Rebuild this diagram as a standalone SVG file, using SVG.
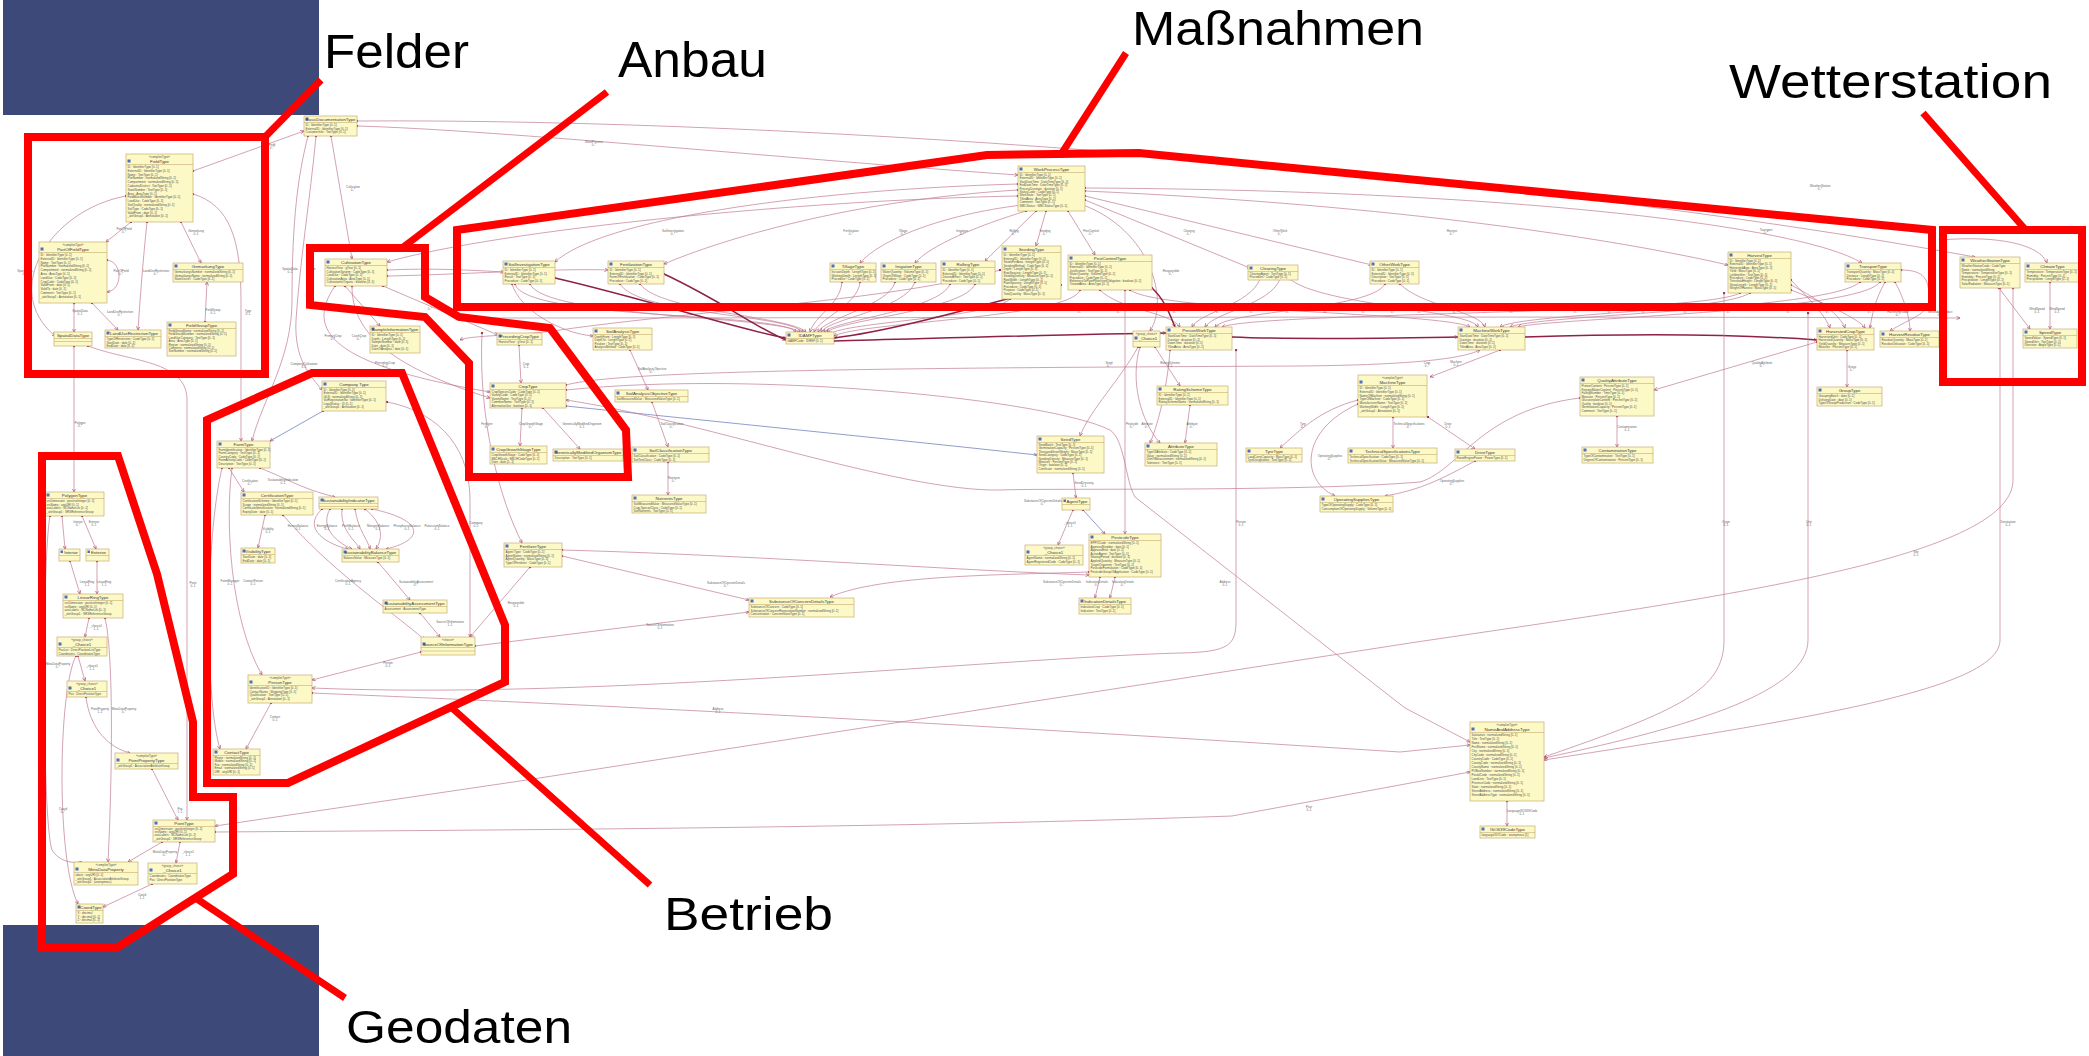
<svg xmlns="http://www.w3.org/2000/svg" width="2089" height="1056" viewBox="0 0 2089 1056">
<style>
.b{fill:#fdf9c6;stroke:#c6ab74;stroke-width:0.7}
.dv{stroke:#c6ab74;stroke-width:0.6}
.ic{fill:#4f6fbf}
.t{font-family:"Liberation Sans",Arial,sans-serif;font-size:4.4px;fill:#3a3a3a;text-anchor:middle}
.s{font-family:"Liberation Sans",Arial,sans-serif;font-size:3px;fill:#555;text-anchor:middle}
.a{font-family:"Liberation Sans",Arial,sans-serif;font-size:3px;fill:#505050}
.l{font-family:"Liberation Sans",Arial,sans-serif;font-size:3px;fill:#666;text-anchor:middle}
.c{fill:none;stroke:#c07a94;stroke-width:0.7}
.k{fill:none;stroke:#8e2244;stroke-width:1.5}
.bl{fill:none;stroke:#6272b8;stroke-width:0.7}
.red{fill:none;stroke:#ff0000;stroke-width:8;stroke-linejoin:miter}
.redl{stroke:#ff0000;stroke-width:7}
.big{font-family:"Liberation Sans",Arial,sans-serif;fill:#000}
.blue{fill:#3d4a79}
</style>
<defs>
<marker id="dm" viewBox="0 0 6 6" refX="3" refY="3" markerWidth="3" markerHeight="3" markerUnits="userSpaceOnUse" orient="auto"><path d="M0,3 L3,0 L6,3 L3,6 Z" fill="#9a1f45"/></marker>
<marker id="ah" viewBox="0 0 6 6" refX="6" refY="3" markerWidth="3.5" markerHeight="3.5" markerUnits="userSpaceOnUse" orient="auto"><path d="M0,0 L6,3 L0,6" fill="none" stroke="#9a3356" stroke-width="1"/></marker>
</defs>
<rect width="2089" height="1056" fill="#ffffff"/>

<!-- connectors -->
<g id="connectors" marker-start="url(#dm)" marker-end="url(#ah)">
<path class="c" d="M193,171 L304,131"/>
<path class="c" d="M131,222 L106,242"/>
<path class="c" d="M181,222 L201,263"/>
<path class="c" d="M147,222 C143,260 140,300 138,330"/>
<path class="c" d="M107,260 C123,262 123,290 107,292"/>
<path class="c" d="M126,196 C50,210 0,290 55,336"/>
<path class="c" d="M74,303 L74,332"/>
<path class="c" d="M92,303 L118,330"/>
<path class="c" d="M205,322 L207,282"/>
<path class="c" d="M193,194 C230,205 241,240 241,300 L241,441"/>
<path class="c" d="M74,346 L74,492"/>
<path class="c" d="M88,346 C130,362 187,360 187,400 L187,820"/>
<path class="c" d="M308,136 C298,175 292,220 292,300 C292,360 262,400 252,441"/>
<path class="c" d="M316,136 C310,200 300,260 296,320 C294,360 310,375 322,390"/>
<path class="c" d="M331,136 L352,259"/>
<path class="c" d="M357,126 C500,130 800,160 1018,175"/>
<path class="c" d="M357,121 C800,118 1500,170 1975,257"/>
<path class="c" d="M387,270 C430,268 470,270 504,272"/>
<path class="c" d="M387,276 C450,275 560,268 608,270"/>
<path class="c" d="M383,286 L498,335"/>
<path class="c" d="M345,286 L380,326"/>
<path class="c" d="M335,286 C305,330 330,365 490,392"/>
<path class="c" d="M352,286 C352,330 385,365 490,398"/>
<path class="c" d="M519,345 L521,383"/>
<path class="c" d="M522,408 L520,446"/>
<path class="c" d="M543,408 L580,449"/>
<path class="c" d="M482,333 C478,420 500,500 522,543"/>
<path class="c" d="M512,284 C520,310 560,333 593,336"/>
<path class="c" d="M630,350 L648,390"/>
<path class="c" d="M652,402 L668,447"/>
<path class="c" d="M668,462 L668,495"/>
<path class="c" d="M530,567 L470,637"/>
<path class="c" d="M475,646 L749,612"/>
<path class="c" d="M562,556 L749,600"/>
<path class="c" d="M387,402 C430,410 470,440 470,500 L470,637"/>
<path class="bl" d="M566,406 C700,420 900,440 1037,455"/>
<path class="bl" d="M323,411 L270,441"/>
<path class="bl" d="M1083,510 L1105,534"/>
<path class="c" d="M562,550 C750,555 950,570 1089,575"/>
<path class="c" d="M1089,572 C1000,575 880,575 830,597"/>
<path class="c" d="M566,390 C760,370 1050,400 1110,430 C1125,440 1125,480 1135,497 L1405,708 L1470,742"/>
<path class="c" d="M566,385 C620,370 900,368 1300,366 C1400,365 1460,360 1480,350"/>
<path class="c" d="M1580,398 C1480,410 1460,470 1420,482 C1300,492 1050,488 1000,490 C900,492 700,420 566,400"/>
<path class="c" d="M222,468 C205,540 205,700 220,749"/>
<path class="c" d="M232,468 C225,520 230,620 262,675"/>
<path class="c" d="M229,468 L244,492"/>
<path class="c" d="M260,468 C290,480 300,488 335,497"/>
<path class="c" d="M265,515 L258,548"/>
<path class="c" d="M283,515 C330,570 390,610 425,640"/>
<path class="c" d="M322,509 C300,530 330,545 348,549"/>
<path class="c" d="M330,509 C318,530 342,545 352,549"/>
<path class="c" d="M342,509 C340,530 355,540 360,549"/>
<path class="c" d="M355,509 C358,530 368,540 370,549"/>
<path class="c" d="M365,509 C385,525 382,540 376,549"/>
<path class="c" d="M372,509 C425,520 425,540 386,549"/>
<path class="c" d="M378,562 L410,600"/>
<path class="c" d="M420,613 L440,637"/>
<path class="c" d="M421,652 L312,680"/>
<path class="c" d="M271,703 L246,749"/>
<path class="c" d="M1236,350 L1236,620 C1236,645 1230,652 1180,653 C1000,658 600,700 312,688"/>
<path class="c" d="M312,693 C600,705 900,720 1400,752 L1470,745"/>
<path class="c" d="M62,516 L65,549"/>
<path class="c" d="M82,516 L96,549"/>
<path class="c" d="M70,561 L80,594"/>
<path class="c" d="M97,561 L97,594"/>
<path class="c" d="M89,618 L85,637"/>
<path class="c" d="M78,656 L85,681"/>
<path class="c" d="M86,697 C90,730 110,748 130,753"/>
<path class="c" d="M105,618 C113,650 113,760 108,862"/>
<path class="c" d="M50,516 C42,560 42,820 52,850 C58,860 70,864 82,862"/>
<path class="c" d="M76,656 C58,690 56,860 78,904"/>
<path class="c" d="M152,769 L178,820"/>
<path class="c" d="M162,842 L128,862"/>
<path class="c" d="M180,842 L176,863"/>
<path class="c" d="M152,884 L103,907"/>
<path class="c" d="M2013,288 L2013,480 C2013,560 1700,600 1410,643 L520,781 L215,826"/>
<path class="c" d="M215,832 C500,830 900,828 1232,816 L1470,772"/>
<path class="c" d="M1018,184 C800,190 600,220 555,262"/>
<path class="c" d="M1018,190 C850,200 720,240 664,264"/>
<path class="c" d="M1018,196 C800,200 500,230 387,262"/>
<path class="c" d="M1022,205 C940,215 880,240 860,263"/>
<path class="c" d="M1026,211 C980,225 930,245 915,263"/>
<path class="c" d="M1036,211 L985,261"/>
<path class="c" d="M1046,211 L1036,246"/>
<path class="c" d="M1068,211 L1095,255"/>
<path class="c" d="M1085,200 L1250,268"/>
<path class="c" d="M1085,196 L1372,265"/>
<path class="c" d="M1085,191 C1400,205 1620,240 1728,265"/>
<path class="c" d="M1085,188 C1500,190 1800,225 1862,263"/>
<path class="c" d="M1083,205 C1150,230 1170,300 1150,331"/>
<path class="c" d="M460,318 C900,318 1500,316 1960,318"/>
<path class="c" d="M515,284 C525,320 780,312 796,332"/>
<path class="c" d="M530,284 C545,318 780,316 800,332"/>
<path class="c" d="M620,284 C640,315 785,314 803,332"/>
<path class="c" d="M640,284 C660,312 790,316 806,332"/>
<path class="c" d="M842,282 C840,305 815,315 810,332"/>
<path class="c" d="M860,282 C858,305 820,318 814,332"/>
<path class="c" d="M895,282 C890,305 825,318 818,332"/>
<path class="c" d="M915,282 C905,310 830,318 821,332"/>
<path class="c" d="M950,284 C940,310 835,320 824,332"/>
<path class="c" d="M975,284 C965,310 840,320 827,332"/>
<path class="c" d="M1010,299 C990,318 845,322 830,334"/>
<path class="c" d="M1080,290 C1070,318 860,322 834,336"/>
<path class="c" d="M1100,290 C1120,310 1170,312 1180,327"/>
<path class="c" d="M1260,279 C1250,305 1200,312 1192,327"/>
<path class="c" d="M1280,279 C1270,305 1215,312 1205,327"/>
<path class="c" d="M1385,284 C1370,310 1230,310 1215,327"/>
<path class="c" d="M1740,293 C1700,315 1260,312 1222,327"/>
<path class="c" d="M1290,279 C1320,305 1470,310 1478,327"/>
<path class="c" d="M1400,284 C1420,305 1480,312 1485,327"/>
<path class="c" d="M1750,293 C1720,312 1520,314 1500,327"/>
<path class="c" d="M1860,282 C1830,310 1540,314 1510,327"/>
<path class="c" d="M1880,282 C1860,312 1550,318 1518,327"/>
<path class="c" d="M1130,290 C1160,312 1440,312 1470,327"/>
<path class="c" d="M1000,270 C900,300 700,310 560,330 C520,336 470,335 460,340"/>
<path class="k" d="M555,278 C650,300 740,330 786,338"/>
<path class="k" d="M664,274 C720,300 760,330 786,340"/>
<path class="k" d="M1061,285 C1000,300 900,330 834,338"/>
<path class="k" d="M834,341 C950,338 1080,334 1166,333"/>
<path class="k" d="M1232,337 C1300,340 1400,338 1458,337"/>
<path class="k" d="M1525,337 C1650,333 1750,335 1817,340"/>
<path class="k" d="M1152,288 C1165,300 1170,315 1175,327"/>
<path class="c" d="M1500,350 L1430,377"/>
<path class="c" d="M1358,400 C1320,410 1300,430 1280,448"/>
<path class="c" d="M1393,417 L1393,448"/>
<path class="c" d="M1428,417 L1475,449"/>
<path class="c" d="M1358,404 C1300,430 1300,480 1335,496"/>
<path class="c" d="M1475,461 C1440,480 1420,490 1385,496"/>
<path class="c" d="M1190,405 L1185,443"/>
<path class="c" d="M1140,347 C1130,380 1140,420 1160,443"/>
<path class="c" d="M1155,347 L1180,386"/>
<path class="c" d="M1138,347 C1120,380 1090,410 1080,436"/>
<path class="c" d="M1073,473 L1076,498"/>
<path class="c" d="M1073,510 L1058,545"/>
<path class="c" d="M1125,290 L1125,534"/>
<path class="c" d="M1115,577 L1110,598"/>
<path class="c" d="M1100,577 L1095,598"/>
<path class="c" d="M1170,350 C1168,380 1160,420 1150,443"/>
<path class="c" d="M1791,280 C1810,300 1825,315 1830,328"/>
<path class="c" d="M1791,285 C1820,300 1840,315 1845,328"/>
<path class="c" d="M1791,290 C1830,305 1860,320 1865,328"/>
<path class="c" d="M1885,282 C1875,300 1872,315 1870,328"/>
<path class="c" d="M1895,282 C1905,300 1910,320 1910,331"/>
<path class="c" d="M1901,270 C1925,270 1929,280 1929,298 C1929,315 1910,318 1890,331"/>
<path class="c" d="M1847,350 L1847,387"/>
<path class="c" d="M1817,342 L1654,390"/>
<path class="c" d="M1617,416 L1617,447"/>
<path class="c" d="M1724,293 L1724,640 C1724,690 1680,710 1544,757"/>
<path class="c" d="M1808,313 L1808,640 C1808,690 1700,725 1544,758"/>
<path class="c" d="M2000,288 L2000,640 C2000,690 1800,720 1544,760"/>
<path class="c" d="M1999,288 L2030,329"/>
<path class="c" d="M2050,282 L2050,329"/>
<path class="c" d="M1940,240 C2000,235 2040,245 2047,263"/>
<path class="c" d="M1507,801 L1507,826"/>
</g>

<!-- connector labels -->
<g id="connector-labels">
<text class="l" x="272" y="146">Field<tspan x="272" dy="3.4">0..*</tspan></text>
<text class="l" x="124" y="230">PartOfField<tspan x="124" dy="3.4">0..*</tspan></text>
<text class="l" x="196" y="232">Gemarkung<tspan x="196" dy="3.4">0..1</tspan></text>
<text class="l" x="156" y="272">LandUseRestriction<tspan x="156" dy="3.4">0..*</tspan></text>
<text class="l" x="121" y="272">PartOfField<tspan x="121" dy="3.4">0..*</tspan></text>
<text class="l" x="25" y="272">SpatialData<tspan x="25" dy="3.4">0..1</tspan></text>
<text class="l" x="80" y="312">SpatialData<tspan x="80" dy="3.4">0..1</tspan></text>
<text class="l" x="120" y="313">LandUseRestriction<tspan x="120" dy="3.4">0..*</tspan></text>
<text class="l" x="213" y="311">FieldGroup<tspan x="213" dy="3.4">0..1</tspan></text>
<text class="l" x="248" y="312">Type<tspan x="248" dy="3.4">0..1</tspan></text>
<text class="l" x="290" y="270">SpatialData<tspan x="290" dy="3.4">0..1</tspan></text>
<text class="l" x="312" y="270">Farm<tspan x="312" dy="3.4">0..*</tspan></text>
<text class="l" x="80" y="424">Polygon<tspan x="80" dy="3.4">0..*</tspan></text>
<text class="l" x="193" y="584">Point<tspan x="193" dy="3.4">0..1</tspan></text>
<text class="l" x="353" y="188">Cultivation<tspan x="353" dy="3.4">0..*</tspan></text>
<text class="l" x="594" y="143">WorkProcess<tspan x="594" dy="3.4">0..*</tspan></text>
<text class="l" x="1820" y="187">WeatherStation<tspan x="1820" dy="3.4">0..*</tspan></text>
<text class="l" x="372" y="311">SampleInformation<tspan x="372" dy="3.4">0..*</tspan></text>
<text class="l" x="333" y="337">PrimaryCrop<tspan x="333" dy="3.4">0..*</tspan></text>
<text class="l" x="359" y="337">CatchCrop<tspan x="359" dy="3.4">0..*</tspan></text>
<text class="l" x="304" y="365">CompanyCultivation<tspan x="304" dy="3.4">0..1</tspan></text>
<text class="l" x="385" y="364">PrecedingCrop<tspan x="385" dy="3.4">0..1</tspan></text>
<text class="l" x="526" y="365">Crop<tspan x="526" dy="3.4">0..1</tspan></text>
<text class="l" x="531" y="425">CropGrowthStage<tspan x="531" dy="3.4">0..*</tspan></text>
<text class="l" x="582" y="425">GeneticallyModifiedOrganism<tspan x="582" dy="3.4">0..1</tspan></text>
<text class="l" x="487" y="425">Fertilizer<tspan x="487" dy="3.4">0..*</tspan></text>
<text class="l" x="652" y="370">SoilAnalysisObjective<tspan x="652" dy="3.4">0..*</tspan></text>
<text class="l" x="672" y="425">SoilClassification<tspan x="672" dy="3.4">0..*</tspan></text>
<text class="l" x="674" y="479">Nutrients<tspan x="674" dy="3.4">0..*</tspan></text>
<text class="l" x="516" y="604">Responsible<tspan x="516" dy="3.4">0..1</tspan></text>
<text class="l" x="660" y="626">SourceOfInformation<tspan x="660" dy="3.4">0..1</tspan></text>
<text class="l" x="726" y="584">SubstanceOfConcernDetails<tspan x="726" dy="3.4">0..*</tspan></text>
<text class="l" x="476" y="524">Company<tspan x="476" dy="3.4">0..1</tspan></text>
<text class="l" x="230" y="582">FarmManager<tspan x="230" dy="3.4">0..1</tspan></text>
<text class="l" x="253" y="582">ContactPerson<tspan x="253" dy="3.4">0..1</tspan></text>
<text class="l" x="250" y="482">Certification<tspan x="250" dy="3.4">0..*</tspan></text>
<text class="l" x="283" y="481">SustainabilityIndication<tspan x="283" dy="3.4">0..1</tspan></text>
<text class="l" x="268" y="530">Visibility<tspan x="268" dy="3.4">0..1</tspan></text>
<text class="l" x="348" y="582">CertificationAgency<tspan x="348" dy="3.4">0..1</tspan></text>
<text class="l" x="298" y="527">HumusBalance<tspan x="298" dy="3.4">0..1</tspan></text>
<text class="l" x="327" y="527">EnergyBalance<tspan x="327" dy="3.4">0..1</tspan></text>
<text class="l" x="351" y="527">ProfitBalance<tspan x="351" dy="3.4">0..1</tspan></text>
<text class="l" x="378" y="527">NitrogenBalance<tspan x="378" dy="3.4">0..1</tspan></text>
<text class="l" x="407" y="527">PhosphorusBalance<tspan x="407" dy="3.4">0..1</tspan></text>
<text class="l" x="437" y="527">PotassiumBalance<tspan x="437" dy="3.4">0..1</tspan></text>
<text class="l" x="416" y="583">SustainabilityAssessment<tspan x="416" dy="3.4">0..*</tspan></text>
<text class="l" x="450" y="623">SourceOfInformation<tspan x="450" dy="3.4">1..1</tspan></text>
<text class="l" x="388" y="664">Person<tspan x="388" dy="3.4">0..1</tspan></text>
<text class="l" x="275" y="718">Contact<tspan x="275" dy="3.4">0..1</tspan></text>
<text class="l" x="1241" y="523">Person<tspan x="1241" dy="3.4">0..1</tspan></text>
<text class="l" x="718" y="710">Address<tspan x="718" dy="3.4">0..1</tspan></text>
<text class="l" x="1225" y="583">Address<tspan x="1225" dy="3.4">0..1</tspan></text>
<text class="l" x="78" y="523">Interior<tspan x="78" dy="3.4">0..*</tspan></text>
<text class="l" x="94" y="523">Exterior<tspan x="94" dy="3.4">0..1</tspan></text>
<text class="l" x="87" y="583">LinearRing<tspan x="87" dy="3.4">1..1</tspan></text>
<text class="l" x="104" y="583">LinearRing<tspan x="104" dy="3.4">1..1</tspan></text>
<text class="l" x="96" y="627">_choice1<tspan x="96" dy="3.4">1..1</tspan></text>
<text class="l" x="92" y="667">_choice1<tspan x="92" dy="3.4">1..1</tspan></text>
<text class="l" x="100" y="710">PointProperty<tspan x="100" dy="3.4">1..1</tspan></text>
<text class="l" x="124" y="710">MetaDataProperty<tspan x="124" dy="3.4">0..*</tspan></text>
<text class="l" x="58" y="665">MetaDataProperty<tspan x="58" dy="3.4">0..*</tspan></text>
<text class="l" x="63" y="810">Coord<tspan x="63" dy="3.4">0..*</tspan></text>
<text class="l" x="180" y="810">Pos<tspan x="180" dy="3.4">1..1</tspan></text>
<text class="l" x="165" y="853">MetaDataProperty<tspan x="165" dy="3.4">0..*</tspan></text>
<text class="l" x="188" y="853">_choice1<tspan x="188" dy="3.4">1..1</tspan></text>
<text class="l" x="142" y="896">Coord<tspan x="142" dy="3.4">1..1</tspan></text>
<text class="l" x="1916" y="553">Site<tspan x="1916" dy="3.4">0..1</tspan></text>
<text class="l" x="1309" y="808">Post<tspan x="1309" dy="3.4">0..1</tspan></text>
<text class="l" x="673" y="232">SoilInvestigation<tspan x="673" dy="3.4">0..*</tspan></text>
<text class="l" x="851" y="232">Fertilization<tspan x="851" dy="3.4">0..*</tspan></text>
<text class="l" x="903" y="232">Tillage<tspan x="903" dy="3.4">0..*</tspan></text>
<text class="l" x="962" y="232">Irrigation<tspan x="962" dy="3.4">0..*</tspan></text>
<text class="l" x="1014" y="232">Rolling<tspan x="1014" dy="3.4">0..*</tspan></text>
<text class="l" x="1045" y="232">Seeding<tspan x="1045" dy="3.4">0..*</tspan></text>
<text class="l" x="1091" y="232">PestControl<tspan x="1091" dy="3.4">0..*</tspan></text>
<text class="l" x="1189" y="232">Clearing<tspan x="1189" dy="3.4">0..*</tspan></text>
<text class="l" x="1280" y="232">OtherWork<tspan x="1280" dy="3.4">0..*</tspan></text>
<text class="l" x="1452" y="232">Harvest<tspan x="1452" dy="3.4">0..*</tspan></text>
<text class="l" x="1766" y="231">Transport<tspan x="1766" dy="3.4">0..*</tspan></text>
<text class="l" x="1171" y="272">Responsible<tspan x="1171" dy="3.4">0..*</tspan></text>
<text class="l" x="1456" y="363">Machine<tspan x="1456" dy="3.4">0..1</tspan></text>
<text class="l" x="1427" y="364">Crop<tspan x="1427" dy="3.4">0..*</tspan></text>
<text class="l" x="1303" y="425">Tyre<tspan x="1303" dy="3.4">0..*</tspan></text>
<text class="l" x="1409" y="425">TechnicalSpecifications<tspan x="1409" dy="3.4">0..*</tspan></text>
<text class="l" x="1448" y="425">Drive<tspan x="1448" dy="3.4">0..1</tspan></text>
<text class="l" x="1330" y="457">OperatingSupplies<tspan x="1330" dy="3.4">0..*</tspan></text>
<text class="l" x="1452" y="482">OperatingSupplies<tspan x="1452" dy="3.4">0..*</tspan></text>
<text class="l" x="1147" y="425">Attribute<tspan x="1147" dy="3.4">0..*</tspan></text>
<text class="l" x="1192" y="425">Attribute<tspan x="1192" dy="3.4">0..*</tspan></text>
<text class="l" x="1170" y="364">RatingScheme<tspan x="1170" dy="3.4">0..1</tspan></text>
<text class="l" x="1109" y="364">Seed<tspan x="1109" dy="3.4">0..*</tspan></text>
<text class="l" x="1084" y="484">SeedDressing<tspan x="1084" dy="3.4">0..1</tspan></text>
<text class="l" x="1070" y="524">_choice1<tspan x="1070" dy="3.4">1..1</tspan></text>
<text class="l" x="1043" y="502">SubstanceOfConcernDetails<tspan x="1043" dy="3.4">0..*</tspan></text>
<text class="l" x="1132" y="425">Pesticide<tspan x="1132" dy="3.4">0..*</tspan></text>
<text class="l" x="1062" y="583">SubstanceOfConcernDetails<tspan x="1062" dy="3.4">0..*</tspan></text>
<text class="l" x="1097" y="583">IndicationDetails<tspan x="1097" dy="3.4">0..*</tspan></text>
<text class="l" x="1123" y="583">IndicationDetails<tspan x="1123" dy="3.4">0..*</tspan></text>
<text class="l" x="1852" y="368">Group<tspan x="1852" dy="3.4">0..*</tspan></text>
<text class="l" x="1762" y="364">QualityAttribute<tspan x="1762" dy="3.4">0..*</tspan></text>
<text class="l" x="1627" y="428">Contamination<tspan x="1627" dy="3.4">0..1</tspan></text>
<text class="l" x="1726" y="523">Origin<tspan x="1726" dy="3.4">0..1</tspan></text>
<text class="l" x="1809" y="523">Unit<tspan x="1809" dy="3.4">0..1</tspan></text>
<text class="l" x="2008" y="523">Destination<tspan x="2008" dy="3.4">0..1</tspan></text>
<text class="l" x="2037" y="310">WindSpeed<tspan x="2037" dy="3.4">0..1</tspan></text>
<text class="l" x="2057" y="310">WindSpeed<tspan x="2057" dy="3.4">0..1</tspan></text>
<text class="l" x="1522" y="812">LanguageISO639Code<tspan x="1522" dy="3.4">0..1</tspan></text>
<text class="l" x="1940" y="313">SecondaryProduct<tspan x="1940" dy="3.4">0..*</tspan></text>
<text class="l" x="1898" y="313">HarvestResidue<tspan x="1898" dy="3.4">0..*</tspan></text>
<text class="l" x="338" y="310">0..*</text><text class="l" x="370" y="310">0..*</text><text class="l" x="430" y="310">0..*</text>
<text class="l" x="476" y="310">0..*</text><text class="l" x="520" y="310">0..*</text><text class="l" x="566" y="310">0..*</text>
<text class="l" x="607" y="310">0..*</text><text class="l" x="655" y="310">0..*</text><text class="l" x="700" y="310">0..*</text>
<text class="l" x="740" y="310">0..*</text><text class="l" x="773" y="310">0..*</text><text class="l" x="866" y="310">0..*</text>
<text class="l" x="907" y="310">0..*</text><text class="l" x="944" y="310">0..*</text><text class="l" x="989" y="310">0..*</text>
<text class="l" x="1080" y="313">0..*</text><text class="l" x="1119" y="313">0..*</text><text class="l" x="1175" y="313">0..*</text>
<text class="l" x="1218" y="313">0..*</text><text class="l" x="1252" y="313">0..*</text><text class="l" x="1288" y="313">0..*</text>
<text class="l" x="1326" y="313">0..*</text><text class="l" x="1364" y="313">0..*</text><text class="l" x="1393" y="313">0..*</text>
<text class="l" x="1420" y="313">0..*</text><text class="l" x="1455" y="313">0..*</text><text class="l" x="1512" y="313">0..*</text>
<text class="l" x="1576" y="313">0..*</text><text class="l" x="1610" y="313">0..*</text><text class="l" x="1644" y="313">0..*</text>
<text class="l" x="1686" y="313">0..*</text><text class="l" x="1729" y="313">0..*</text><text class="l" x="1789" y="313">0..*</text>
<text class="l" x="1828" y="313">0..*</text><text class="l" x="1870" y="313">0..*</text>
</g>

<!-- Felder -->
<g id="BasicDocumentationType"><rect class="b" x="304" y="116" width="53" height="20"/><rect class="ic" x="305.5" y="117.5" width="3" height="3"/><text class="t" x="330.5" y="120.8">BasicDocumentationType</text><line class="dv" x1="304" y1="122.5" x2="357" y2="122.5"/><text class="a" x="305.5" y="126">ID : IdentifierType [0..1]</text><text class="a" x="305.5" y="129.5">ExternalID : IdentifierType [0..1]</text><text class="a" x="305.5" y="133">CustomerInfo : TextType [0..1]</text></g>
<g id="FieldType"><rect class="b" x="126" y="154" width="67" height="68"/><rect class="ic" x="127.5" y="159.5" width="3" height="3"/><text class="s" x="159.5" y="157.8">«complexType»</text><text class="t" x="159.5" y="162.6">FieldType</text><line class="dv" x1="126" y1="164.5" x2="193" y2="164.5"/>
<text class="a" x="127.5" y="168">ID : IdentifierType [0..1]</text><text class="a" x="127.5" y="171.8">ExternalID : IdentifierType [0..1]</text><text class="a" x="127.5" y="175.6">Name : TextType [0..1]</text><text class="a" x="127.5" y="179.4">PlotNumber : normalizedString [0..1]</text><text class="a" x="127.5" y="183.2">Compartment : normalizedString [0..1]</text><text class="a" x="127.5" y="187">CadastralDistrict : TextType [0..1]</text><text class="a" x="127.5" y="190.8">StateNumber : TextType [0..1]</text><text class="a" x="127.5" y="194.6">Area : AreaType [0..1]</text><text class="a" x="127.5" y="198.4">FieldBlockNumber : IdentifierType [0..1]</text><text class="a" x="127.5" y="202.2">LandUse : CodeType [0..1]</text><text class="a" x="127.5" y="206">SoilQuality : normalizedString [0..1]</text><text class="a" x="127.5" y="209.8">SoilType : CodeType [0..1]</text><text class="a" x="127.5" y="213.6">ValidFrom : date [0..1]</text><text class="a" x="127.5" y="217.4">_attrGroup1 : Annotation [0..1]</text></g>
<g id="PartOfFieldType"><rect class="b" x="39" y="242" width="68" height="61"/><rect class="ic" x="40.5" y="247.5" width="3" height="3"/><text class="s" x="73" y="245.8">«complexType»</text><text class="t" x="73" y="250.6">PartOfFieldType</text><line class="dv" x1="39" y1="252.5" x2="107" y2="252.5"/>
<text class="a" x="40.5" y="256">ID : IdentifierType [0..1]</text><text class="a" x="40.5" y="259.8">ExternalID : IdentifierType [0..1]</text><text class="a" x="40.5" y="263.6">Name : TextType [0..1]</text><text class="a" x="40.5" y="267.4">PlotNumber : normalizedString [0..1]</text><text class="a" x="40.5" y="271.2">Compartment : normalizedString [0..1]</text><text class="a" x="40.5" y="275">Area : AreaType [0..1]</text><text class="a" x="40.5" y="278.8">LandUse : CodeType [0..1]</text><text class="a" x="40.5" y="282.6">CropCode : CodeType [0..1]</text><text class="a" x="40.5" y="286.4">ValidFrom : date [0..1]</text><text class="a" x="40.5" y="290.2">ValidTo : date [0..1]</text><text class="a" x="40.5" y="294">Comment : TextType [0..1]</text><text class="a" x="40.5" y="297.8">_attrGroup1 : Annotation [0..1]</text></g>
<g id="GemarkungType"><rect class="b" x="173" y="263" width="70" height="19"/><rect class="ic" x="174.5" y="264.5" width="3" height="3"/><text class="t" x="208" y="267.8">GemarkungType</text><line class="dv" x1="173" y1="269.5" x2="243" y2="269.5"/><text class="a" x="174.5" y="273">GemarkungsNumber : normalizedString [0..1]</text><text class="a" x="174.5" y="276.5">GemarkungsName : normalizedString [0..1]</text><text class="a" x="174.5" y="280">StateDistrict : CodeType [0..1]</text></g>
<g id="SpatialDataType"><rect class="b" x="54" y="332" width="38" height="14"/><text class="t" x="73" y="336.8">SpatialDataType</text><line class="dv" x1="54" y1="338.5" x2="92" y2="338.5"/><line class="dv" x1="54" y1="341.5" x2="92" y2="341.5"/></g>
<g id="LandUseRestrictionType"><rect class="b" x="105" y="330" width="56" height="18"/><rect class="ic" x="106.5" y="331.5" width="3" height="3"/><text class="t" x="134" y="334.8">LandUseRestrictionType</text><line class="dv" x1="105" y1="336.5" x2="161" y2="336.5"/><text class="a" x="106.5" y="340">TypeOfRestriction : CodeType [0..1]</text><text class="a" x="106.5" y="343.5">StartDate : date [0..1]</text><text class="a" x="106.5" y="347">EndDate : date [0..1]</text></g>
<g id="FieldGroupType"><rect class="b" x="167" y="322" width="69" height="34"/><rect class="ic" x="168.5" y="323.5" width="3" height="3"/><text class="t" x="201.5" y="326.8">FieldGroupType</text><line class="dv" x1="167" y1="328.5" x2="236" y2="328.5"/><text class="a" x="168.5" y="332">FieldGroupName : normalizedString [0..1]</text><text class="a" x="168.5" y="335.4">FieldGroupNumber : normalizedString [0..1]</text><text class="a" x="168.5" y="338.8">LandUseCategory : TextType [0..1]</text><text class="a" x="168.5" y="342.2">Area : AreaType [0..1]</text><text class="a" x="168.5" y="345.6">Region : normalizedString [0..1]</text><text class="a" x="168.5" y="349">Comment : normalizedString [0..1]</text><text class="a" x="168.5" y="352.4">SiteNumber : normalizedString [0..1]</text></g>

<!-- Anbau -->
<g id="CultivationType"><rect class="b" x="325" y="259" width="62" height="27"/><rect class="ic" x="326.5" y="260.5" width="3" height="3"/><text class="t" x="356" y="263.8">CultivationType</text><line class="dv" x1="325" y1="265.5" x2="387" y2="265.5"/><text class="a" x="326.5" y="269">HarvestYear : gYear [0..1]</text><text class="a" x="326.5" y="272.5">CultivationSystem : CodeType [0..1]</text><text class="a" x="326.5" y="276">LandUse : CodeType [0..1]</text><text class="a" x="326.5" y="279.5">CultivationArea : AreaType [0..1]</text><text class="a" x="326.5" y="283">CultivationIsOrganic : boolean [0..1]</text></g>
<g id="SampleInformationType"><rect class="b" x="370" y="326" width="50" height="27"/><rect class="ic" x="371.5" y="327.5" width="3" height="3"/><text class="t" x="395" y="330.8">SampleInformationType</text><line class="dv" x1="370" y1="332.5" x2="420" y2="332.5"/><text class="a" x="371.5" y="336">ID : IdentifierType [0..1]</text><text class="a" x="371.5" y="339.5">Depth : LengthType [0..1]</text><text class="a" x="371.5" y="343">SampleNumber : date [0..1]</text><text class="a" x="371.5" y="346.5">Date : date [0..1]</text><text class="a" x="371.5" y="350">DateOfAnalysis : date [0..1]</text></g>
<g id="PrecedingCropType"><rect class="b" x="497" y="333" width="45" height="12"/><rect class="ic" x="498.5" y="334.5" width="3" height="3"/><text class="t" x="519.5" y="337.8">PrecedingCropType</text><line class="dv" x1="497" y1="339.5" x2="542" y2="339.5"/><text class="a" x="498.5" y="343">HarvestYear : gYear [0..1]</text></g>
<g id="CropType"><rect class="b" x="490" y="383" width="76" height="25"/><rect class="ic" x="491.5" y="384.5" width="3" height="3"/><text class="t" x="528" y="387.8">CropType</text><line class="dv" x1="490" y1="389.5" x2="566" y2="389.5"/><text class="a" x="491.5" y="393">CropSpeciesCode : CodeType [0..1]</text><text class="a" x="491.5" y="396.4">VarietyCode : CodeType [0..1]</text><text class="a" x="491.5" y="399.8">VarietyName : TextType [0..1]</text><text class="a" x="491.5" y="403.2">CommonName : TextType [0..1]</text><text class="a" x="491.5" y="406.6">AlternativeUse : boolean [0..1]</text></g>
<g id="SoilAnalysisType"><rect class="b" x="593" y="328" width="59" height="22"/><rect class="ic" x="594.5" y="329.5" width="3" height="3"/><text class="t" x="622.5" y="332.8">SoilAnalysisType</text><line class="dv" x1="593" y1="334.5" x2="652" y2="334.5"/><text class="a" x="594.5" y="338">DepthFrom : LengthType [0..1]</text><text class="a" x="594.5" y="341.4">DepthTo : LengthType [0..1]</text><text class="a" x="594.5" y="344.8">Position : TextType [0..1]</text><text class="a" x="594.5" y="348.2">AnalysisMethod : CodeType [0..1]</text></g>
<g id="SoilAnalysisObjectiveType"><rect class="b" x="615" y="390" width="73" height="12"/><rect class="ic" x="616.5" y="391.5" width="3" height="3"/><text class="t" x="651.5" y="394.8">SoilAnalysisObjectiveType</text><line class="dv" x1="615" y1="396.5" x2="688" y2="396.5"/><text class="a" x="616.5" y="400">SoilMeasuredValue : MeasuredValueType [0..1]</text></g>
<g id="CropGrowthStageType"><rect class="b" x="490" y="446" width="57" height="18"/><rect class="ic" x="491.5" y="447.5" width="3" height="3"/><text class="t" x="518.5" y="450.8">CropGrowthStageType</text><line class="dv" x1="490" y1="452.5" x2="547" y2="452.5"/><text class="a" x="491.5" y="456">CropGrowthStage : CodeType [0..1]</text><text class="a" x="491.5" y="459.5">BBCHScale : BBCHCodeType [0..1]</text><text class="a" x="491.5" y="463">Date : date [1..1]</text></g>
<g id="GeneticallyModifiedOrganismType"><rect class="b" x="553" y="449" width="70" height="12"/><rect class="ic" x="554.5" y="450.5" width="3" height="3"/><text class="t" x="588" y="453.8">GeneticallyModifiedOrganismType</text><line class="dv" x1="553" y1="455.5" x2="623" y2="455.5"/><text class="a" x="554.5" y="459">Description : TextType [0..1]</text></g>
<g id="SoilClassificationType"><rect class="b" x="632" y="447" width="77" height="15"/><rect class="ic" x="633.5" y="448.5" width="3" height="3"/><text class="t" x="670.5" y="451.8">SoilClassificationType</text><line class="dv" x1="632" y1="453.5" x2="709" y2="453.5"/><text class="a" x="633.5" y="457">SoilClassification : CodeType [0..1]</text><text class="a" x="633.5" y="460.5">SoilTextClass : CodeType [0..1]</text></g>
<g id="NutrientsType"><rect class="b" x="632" y="495" width="74" height="18"/><rect class="ic" x="633.5" y="496.5" width="3" height="3"/><text class="t" x="669" y="499.8">NutrientsType</text><line class="dv" x1="632" y1="501.5" x2="706" y2="501.5"/><text class="a" x="633.5" y="505">SoilMeasuredValue : MeasuredValueType [0..1]</text><text class="a" x="633.5" y="508.5">Crop SpecialClass : CodeType [0..1]</text><text class="a" x="633.5" y="512">SoilNutrients : TextType [0..1]</text></g>
<g id="FertilizerType"><rect class="b" x="504" y="543" width="58" height="24"/><rect class="ic" x="505.5" y="544.5" width="3" height="3"/><text class="t" x="533" y="547.8">FertilizerType</text><line class="dv" x1="504" y1="549.5" x2="562" y2="549.5"/><text class="a" x="505.5" y="553">Agent Type : CodeType [0..1]</text><text class="a" x="505.5" y="556.5">AgentName : normalizedString [0..1]</text><text class="a" x="505.5" y="560">AgentQuantity : MassType [0..1]</text><text class="a" x="505.5" y="563.5">TypeOfFertilizer : CodeType [0..1]</text></g>
<g id="SubstanceOfConcernDetailsType"><rect class="b" x="749" y="598" width="105" height="19"/><rect class="ic" x="750.5" y="599.5" width="3" height="3"/><text class="t" x="801.5" y="602.8">SubstanceOfConcernDetailsType</text><line class="dv" x1="749" y1="604.5" x2="854" y2="604.5"/><text class="a" x="750.5" y="608">SubstanceOfConcern : CodeType [0..1]</text><text class="a" x="750.5" y="611.5">SubstanceOfConcernRegistrationNumber : normalizedString [0..1]</text><text class="a" x="750.5" y="615">Concentration : ConcentrationType [0..1]</text></g>

<!-- Betrieb -->
<g id="FarmType"><rect class="b" x="217" y="441" width="53" height="27"/><rect class="ic" x="218.5" y="442.5" width="3" height="3"/><text class="t" x="243.5" y="445.8">FarmType</text><line class="dv" x1="217" y1="447.5" x2="270" y2="447.5"/><text class="a" x="218.5" y="451">FarmIdentification : IdentifierType [0..1]</text><text class="a" x="218.5" y="454.4">FarmCategory : TextType [0..1]</text><text class="a" x="218.5" y="457.8">CountryCode : CodeType [0..1]</text><text class="a" x="218.5" y="461.2">FarmActivityCode : CodeType [0..1]</text><text class="a" x="218.5" y="464.6">Description : TextType [0..1]</text></g>
<g id="CertificationType"><rect class="b" x="241" y="492" width="72" height="23"/><rect class="ic" x="242.5" y="493.5" width="3" height="3"/><text class="t" x="277" y="496.8">CertificationType</text><line class="dv" x1="241" y1="498.5" x2="313" y2="498.5"/><text class="a" x="242.5" y="502">CertificationScheme : IdentifierType [0..1]</text><text class="a" x="242.5" y="505.5">Scope : normalizedString [0..1]</text><text class="a" x="242.5" y="509">CertificateIdentification : normalizedString [0..1]</text><text class="a" x="242.5" y="512.5">ExpiryDate : date [0..1]</text></g>
<g id="VisibilityType"><rect class="b" x="241" y="548" width="34" height="15"/><rect class="ic" x="242.5" y="549.5" width="3" height="3"/><text class="t" x="258" y="552.8">VisibilityType</text><line class="dv" x1="241" y1="554.5" x2="275" y2="554.5"/><text class="a" x="242.5" y="558">StartDate : date [0..1]</text><text class="a" x="242.5" y="561.5">EndDate : date [0..1]</text></g>
<g id="SustainabilityIndicatorType"><rect class="b" x="319" y="497" width="59" height="12"/><rect class="ic" x="320.5" y="498.5" width="3" height="3"/><text class="t" x="348.5" y="501.8">SustainabilityIndicatorType</text><line class="dv" x1="319" y1="503.5" x2="378" y2="503.5"/><line class="dv" x1="319" y1="506.5" x2="378" y2="506.5"/></g>
<g id="SustainabilityBalanceType"><rect class="b" x="342" y="549" width="57" height="13"/><rect class="ic" x="343.5" y="550.5" width="3" height="3"/><text class="t" x="370.5" y="553.8">SustainabilityBalanceType</text><line class="dv" x1="342" y1="555.5" x2="399" y2="555.5"/><text class="a" x="343.5" y="559">BalanceValue : MeasureType [0..1]</text></g>
<g id="SustainabilityAssessmentType"><rect class="b" x="383" y="600" width="64" height="13"/><rect class="ic" x="384.5" y="601.5" width="3" height="3"/><text class="t" x="415" y="604.8">SustainabilityAssessmentType</text><line class="dv" x1="383" y1="606.5" x2="447" y2="606.5"/><text class="a" x="384.5" y="610">Assessment : AssessmentType</text></g>
<g id="SourceOfInformationType"><rect class="b" x="421" y="637" width="54" height="18"/><rect class="ic" x="422.5" y="642.5" width="3" height="3"/><text class="s" x="448" y="640.8">«choice»</text><text class="t" x="448" y="645.6">SourceOfInformationType</text><line class="dv" x1="421" y1="647.5" x2="475" y2="647.5"/><line class="dv" x1="421" y1="651" x2="475" y2="651"/></g>
<g id="CompanyType"><rect class="b" x="322" y="381" width="64" height="30"/><rect class="ic" x="323.5" y="382.5" width="3" height="3"/><text class="t" x="354" y="385.8">Company Type</text><line class="dv" x1="322" y1="387.5" x2="386" y2="387.5"/><text class="a" x="323.5" y="391">ID : IdentifierType [0..1]</text><text class="a" x="323.5" y="394.4">ExternalID : IdentifierType [0..1]</text><text class="a" x="323.5" y="397.8">GLN : normalizedString [0..1]</text><text class="a" x="323.5" y="401.2">VatRegistrationNo : IdentifierType [0..1]</text><text class="a" x="323.5" y="404.6">LegalStatus : ID [0..1]</text><text class="a" x="323.5" y="408">_attrGroup1 : Annotation [0..1]</text></g>
<g id="PersonType"><rect class="b" x="248" y="675" width="64" height="28"/><rect class="ic" x="249.5" y="680.5" width="3" height="3"/><text class="s" x="280" y="678.8">«complexType»</text><text class="t" x="280" y="683.6">PersonType</text><line class="dv" x1="248" y1="685.5" x2="312" y2="685.5"/><text class="a" x="249.5" y="689">IdentificationID : IdentifierType [0..1]</text><text class="a" x="249.5" y="692.5">ContactName : ShippingType [0..1]</text><text class="a" x="249.5" y="696">Qualification : TextType [0..1]</text><text class="a" x="249.5" y="699.5">_attrGroup1 : Annotation [0..1]</text></g>
<g id="ContactType"><rect class="b" x="213" y="749" width="47" height="26"/><rect class="ic" x="214.5" y="750.5" width="3" height="3"/><text class="t" x="236.5" y="753.8">ContactType</text><line class="dv" x1="213" y1="755.5" x2="260" y2="755.5"/><text class="a" x="214.5" y="759">Phone : normalizedString [0..1]</text><text class="a" x="214.5" y="762.4">Mobile : normalizedString [0..1]</text><text class="a" x="214.5" y="765.8">Fax : normalizedString [0..1]</text><text class="a" x="214.5" y="769.2">Email : normalizedString [0..1]</text><text class="a" x="214.5" y="772.6">URI : anyURI [0..1]</text></g>

<!-- Geodaten -->
<g id="PolygonType"><rect class="b" x="45" y="492" width="59" height="24"/><rect class="ic" x="46.5" y="493.5" width="3" height="3"/><text class="t" x="74.5" y="496.8">PolygonType</text><line class="dv" x1="45" y1="498.5" x2="104" y2="498.5"/><text class="a" x="46.5" y="502">srsDimension : positiveInteger [0..1]</text><text class="a" x="46.5" y="505.5">srsName : anyURI [0..1]</text><text class="a" x="46.5" y="509">axisLabels : NCNameList [0..1]</text><text class="a" x="46.5" y="512.5">_attrGroup1 : SRSReferenceGroup</text></g>
<g id="Interior"><rect class="b" x="59" y="549" width="21" height="12"/><rect class="ic" x="60.5" y="550.5" width="2.5" height="2.5"/><text class="t" x="71" y="553.8">Interior</text><line class="dv" x1="59" y1="555.5" x2="80" y2="555.5"/></g>
<g id="Exterior"><rect class="b" x="86" y="549" width="23" height="12"/><rect class="ic" x="87.5" y="550.5" width="2.5" height="2.5"/><text class="t" x="98.5" y="553.8">Exterior</text><line class="dv" x1="86" y1="555.5" x2="109" y2="555.5"/></g>
<g id="LinearRingType"><rect class="b" x="63" y="594" width="60" height="24"/><rect class="ic" x="64.5" y="595.5" width="3" height="3"/><text class="t" x="93" y="598.8">LinearRingType</text><line class="dv" x1="63" y1="600.5" x2="123" y2="600.5"/><text class="a" x="64.5" y="604">srsDimension : positiveInteger [0..1]</text><text class="a" x="64.5" y="607.5">srsName : anyURI [0..1]</text><text class="a" x="64.5" y="611">axisLabels : NCNameList [0..1]</text><text class="a" x="64.5" y="614.5">_attrGroup1 : SRSReferenceGroup</text></g>
<g id="Choice1-LinearRing"><rect class="b" x="57" y="637" width="50" height="19"/><rect class="ic" x="58.5" y="642.5" width="3" height="3"/><text class="s" x="82" y="640.8">«group_choice»</text><text class="t" x="82" y="645.6">_Choice1</text><line class="dv" x1="57" y1="647.5" x2="107" y2="647.5"/><text class="a" x="58.5" y="651">PosList : DirectPositionListType</text><text class="a" x="58.5" y="654.5">Coordinates : CoordinatesType</text></g>
<g id="Choice1-Pos"><rect class="b" x="67" y="681" width="40" height="16"/><rect class="ic" x="68.5" y="686.5" width="3" height="3"/><text class="s" x="87" y="684.8">«group_choice»</text><text class="t" x="87" y="689.6">_Choice1</text><line class="dv" x1="67" y1="691.5" x2="107" y2="691.5"/><text class="a" x="68.5" y="695">Pos : DirectPositionType</text></g>
<g id="PointPropertyType"><rect class="b" x="115" y="753" width="63" height="16"/><rect class="ic" x="116.5" y="758.5" width="3" height="3"/><text class="s" x="146.5" y="756.8">«complexType»</text><text class="t" x="146.5" y="761.6">PointPropertyType</text><line class="dv" x1="115" y1="763.5" x2="178" y2="763.5"/><text class="a" x="116.5" y="767">_attrGroup1 : AssociationAttributeGroup</text></g>
<g id="PointType"><rect class="b" x="153" y="820" width="62" height="22"/><rect class="ic" x="154.5" y="821.5" width="3" height="3"/><text class="t" x="184" y="824.8">PointType</text><line class="dv" x1="153" y1="826.5" x2="215" y2="826.5"/><text class="a" x="154.5" y="830">srsDimension : positiveInteger [0..1]</text><text class="a" x="154.5" y="833.2">srsName : anyURI [0..1]</text><text class="a" x="154.5" y="836.4">axisLabels : NCNameList [0..1]</text><text class="a" x="154.5" y="839.6">_attrGroup1 : SRSReferenceGroup</text></g>
<g id="MetaDataProperty"><rect class="b" x="74" y="862" width="64" height="23"/><rect class="ic" x="75.5" y="867.5" width="3" height="3"/><text class="s" x="106" y="865.8">«complexType»</text><text class="t" x="106" y="870.6">MetaDataProperty</text><line class="dv" x1="74" y1="872.5" x2="138" y2="872.5"/><text class="a" x="75.5" y="876">about : anyURI [0..1]</text><text class="a" x="75.5" y="879.5">_attrGroup1 : AssociationAttributeGroup</text><text class="a" x="75.5" y="883">_attrGroup2 : (anonymous)</text></g>
<g id="Choice1-Point"><rect class="b" x="148" y="863" width="49" height="21"/><rect class="ic" x="149.5" y="868.5" width="3" height="3"/><text class="s" x="172.5" y="866.8">«group_choice»</text><text class="t" x="172.5" y="871.6">_Choice1</text><line class="dv" x1="148" y1="873.5" x2="197" y2="873.5"/><text class="a" x="149.5" y="877">Coordinates : CoordinatesType</text><text class="a" x="149.5" y="880.5">Pos : DirectPositionType</text></g>
<g id="CoordType"><rect class="b" x="76" y="904" width="27" height="19"/><rect class="ic" x="77.5" y="905.5" width="3" height="3"/><text class="t" x="91" y="908.8">CoordType</text><line class="dv" x1="76" y1="910.5" x2="103" y2="910.5"/><text class="a" x="77.5" y="914">X : decimal</text><text class="a" x="77.5" y="917.5">Y : decimal [0..1]</text><text class="a" x="77.5" y="921">Z : decimal [0..1]</text></g>

<!-- Maßnahmen -->
<g id="SoilInvestigationType"><rect class="b" x="503" y="261" width="52" height="23"/><rect class="ic" x="504.5" y="262.5" width="3" height="3"/><text class="t" x="529" y="265.8">SoilInvestigationType</text><line class="dv" x1="503" y1="267.5" x2="555" y2="267.5"/><text class="a" x="504.5" y="271">ID : IdentifierType [0..1]</text><text class="a" x="504.5" y="274.5">ExternalID : IdentifierType [0..1]</text><text class="a" x="504.5" y="278">Result : TextType [0..1]</text><text class="a" x="504.5" y="281.5">Procedure : CodeType [0..1]</text></g>
<g id="FertilizationType"><rect class="b" x="608" y="261" width="56" height="23"/><rect class="ic" x="609.5" y="262.5" width="3" height="3"/><text class="t" x="636" y="265.8">FertilizationType</text><line class="dv" x1="608" y1="267.5" x2="664" y2="267.5"/><text class="a" x="609.5" y="271">ID : IdentifierType [0..1]</text><text class="a" x="609.5" y="274.5">ExternalID : IdentifierType [0..1]</text><text class="a" x="609.5" y="278">FormOfFertilization : CodeType [0..1]</text><text class="a" x="609.5" y="281.5">Procedure : CodeType [0..1]</text></g>
<g id="TillageType"><rect class="b" x="830" y="263" width="46" height="19"/><rect class="ic" x="831.5" y="264.5" width="3" height="3"/><text class="t" x="853" y="267.8">TillageType</text><line class="dv" x1="830" y1="269.5" x2="876" y2="269.5"/><text class="a" x="831.5" y="273">IncisionDepth : LengthType [0..1]</text><text class="a" x="831.5" y="276.5">WorkingDepth : LengthType [0..1]</text><text class="a" x="831.5" y="280">Procedure : CodeType [0..1]</text></g>
<g id="IrrigationType"><rect class="b" x="881" y="263" width="55" height="19"/><rect class="ic" x="882.5" y="264.5" width="3" height="3"/><text class="t" x="908.5" y="267.8">IrrigationType</text><line class="dv" x1="881" y1="269.5" x2="936" y2="269.5"/><text class="a" x="882.5" y="273">WaterQuantity : VolumeType [0..1]</text><text class="a" x="882.5" y="276.5">OriginOfWater : CodeType [0..1]</text><text class="a" x="882.5" y="280">Procedure : CodeType [0..1]</text></g>
<g id="RollingType"><rect class="b" x="941" y="261" width="54" height="23"/><rect class="ic" x="942.5" y="262.5" width="3" height="3"/><text class="t" x="968" y="265.8">RollingType</text><line class="dv" x1="941" y1="267.5" x2="995" y2="267.5"/><text class="a" x="942.5" y="271">ID : IdentifierType [0..1]</text><text class="a" x="942.5" y="274.5">ExternalID : IdentifierType [0..1]</text><text class="a" x="942.5" y="278">DesiredEffect : TextType [0..1]</text><text class="a" x="942.5" y="281.5">Procedure : CodeType [0..1]</text></g>
<g id="SeedingType"><rect class="b" x="1002" y="246" width="59" height="53"/><rect class="ic" x="1003.5" y="247.5" width="3" height="3"/><text class="t" x="1031.5" y="250.8">SeedingType</text><line class="dv" x1="1002" y1="252.5" x2="1061" y2="252.5"/><text class="a" x="1003.5" y="256">ID : IdentifierType [0..1]</text><text class="a" x="1003.5" y="259.5">ExternalID : IdentifierType [0..1]</text><text class="a" x="1003.5" y="263">SeedsPerArea : IntegerType [0..1]</text><text class="a" x="1003.5" y="266.5">SeedingMethod : CodeType [0..1]</text><text class="a" x="1003.5" y="270">Depth : LengthType [0..1]</text><text class="a" x="1003.5" y="273.5">RowSpacing : LengthType [0..1]</text><text class="a" x="1003.5" y="277">SeedingDensity : MeasureType [0..1]</text><text class="a" x="1003.5" y="280.5">RowWidth : LengthType [0..1]</text><text class="a" x="1003.5" y="284">PlantSpacing : LengthType [0..1]</text><text class="a" x="1003.5" y="287.5">Procedure : CodeType [0..1]</text><text class="a" x="1003.5" y="291">Purpose : CodeType [0..1]</text><text class="a" x="1003.5" y="294.5">TotalQuantity : MassType [0..1]</text></g>
<g id="IDAMFType"><rect class="b" x="786" y="332" width="48" height="12"/><rect class="ic" x="787.5" y="333.5" width="3" height="3"/><text class="t" x="810" y="336.8">IDAMFType</text><line class="dv" x1="786" y1="338.5" x2="834" y2="338.5"/><text class="a" x="787.5" y="342">IdAMFCode : IDREF [0..1]</text></g>
<g id="WorkProcessType"><rect class="b" x="1018" y="166" width="67" height="45"/><rect class="ic" x="1019.5" y="167.5" width="3" height="3"/><text class="t" x="1051.5" y="170.8">WorkProcessType</text><line class="dv" x1="1018" y1="172.5" x2="1085" y2="172.5"/><text class="a" x="1019.5" y="176">ID : IdentifierType [0..1]</text><text class="a" x="1019.5" y="179.4">ExternalID : IdentifierType [0..1]</text><text class="a" x="1019.5" y="182.8">StartDateTime : DateTimeType [0..1]</text><text class="a" x="1019.5" y="186.2">EndDateTime : DateTimeType [0..1]</text><text class="a" x="1019.5" y="189.6">ProcessDuration : duration [0..1]</text><text class="a" x="1019.5" y="193">StatusCode : CodeType [0..1]</text><text class="a" x="1019.5" y="196.4">WorkState : TextType [0..1]</text><text class="a" x="1019.5" y="199.8">TilledArea : AreaType [0..1]</text><text class="a" x="1019.5" y="203.2">Comment : TextType [0..1]</text><text class="a" x="1019.5" y="206.6">WBCStatus : WBCStatusType [0..1]</text></g>
<g id="PestControlType"><rect class="b" x="1068" y="255" width="84" height="35"/><rect class="ic" x="1069.5" y="256.5" width="3" height="3"/><text class="t" x="1110" y="259.8">PestControlType</text><line class="dv" x1="1068" y1="261.5" x2="1152" y2="261.5"/><text class="a" x="1069.5" y="265">ID : IdentifierType [0..1]</text><text class="a" x="1069.5" y="268.4">ExternalID : IdentifierType [0..1]</text><text class="a" x="1069.5" y="271.8">Justification : TextType [0..1]</text><text class="a" x="1069.5" y="275.2">WaterQuantity : VolumeType [0..1]</text><text class="a" x="1069.5" y="278.6">Procedure : CodeType [0..1]</text><text class="a" x="1069.5" y="282">ReferenceToPlantProtectionObligation : boolean [0..1]</text><text class="a" x="1069.5" y="285.4">TreatedArea : AreaType [0..1]</text></g>
<g id="ClearingType"><rect class="b" x="1248" y="265" width="50" height="15"/><rect class="ic" x="1249.5" y="266.5" width="3" height="3"/><text class="t" x="1273" y="269.8">ClearingType</text><line class="dv" x1="1248" y1="271.5" x2="1298" y2="271.5"/><text class="a" x="1249.5" y="275">ClearingAgent : TextType [0..1]</text><text class="a" x="1249.5" y="278.3">Procedure : CodeType [0..1]</text></g>
<g id="OtherWorkType"><rect class="b" x="1370" y="261" width="49" height="23"/><rect class="ic" x="1371.5" y="262.5" width="3" height="3"/><text class="t" x="1394.5" y="265.8">OtherWorkType</text><line class="dv" x1="1370" y1="267.5" x2="1419" y2="267.5"/><text class="a" x="1371.5" y="271">ID : IdentifierType [0..1]</text><text class="a" x="1371.5" y="274.5">ExternalID : IdentifierType [0..1]</text><text class="a" x="1371.5" y="278">Description : TextType [0..1]</text><text class="a" x="1371.5" y="281.5">Procedure : CodeType [0..1]</text></g>
<g id="HarvestType"><rect class="b" x="1728" y="252" width="63" height="41"/><rect class="ic" x="1729.5" y="253.5" width="3" height="3"/><text class="t" x="1759.5" y="256.8">HarvestType</text><line class="dv" x1="1728" y1="258.5" x2="1791" y2="258.5"/><text class="a" x="1729.5" y="262">ID : IdentifierType [0..1]</text><text class="a" x="1729.5" y="265.4">ExternalID : IdentifierType [0..1]</text><text class="a" x="1729.5" y="268.8">HarvestedArea : AreaType [0..1]</text><text class="a" x="1729.5" y="272.2">Yield : MassType [0..1]</text><text class="a" x="1729.5" y="275.6">LotIdentifier : TextType [0..1]</text><text class="a" x="1729.5" y="279">Procedure : CodeType [0..1]</text><text class="a" x="1729.5" y="282.4">ThresholdHeight : LengthType [0..1]</text><text class="a" x="1729.5" y="285.8">StrawLength : LengthType [0..1]</text><text class="a" x="1729.5" y="289.2">WeightOfHarvest : MassType [0..1]</text></g>
<g id="TransportType"><rect class="b" x="1845" y="263" width="56" height="19"/><rect class="ic" x="1846.5" y="264.5" width="3" height="3"/><text class="t" x="1873" y="267.8">TransportType</text><line class="dv" x1="1845" y1="269.5" x2="1901" y2="269.5"/><text class="a" x="1846.5" y="273">TransportQuantity : MassType [0..1]</text><text class="a" x="1846.5" y="276.5">Distance : LengthType [0..1]</text><text class="a" x="1846.5" y="280">Procedure : CodeType [0..1]</text></g>

<!-- work / machine / agents -->
<g id="Choice1-Work"><rect class="b" x="1133" y="331" width="27" height="16"/><rect class="ic" x="1134.5" y="336.5" width="3" height="3"/><text class="s" x="1146.5" y="334.8">«group_choice»</text><text class="t" x="1148" y="339.6">_Choice1</text><line class="dv" x1="1133" y1="341.5" x2="1160" y2="341.5"/></g>
<g id="PersonWorkType"><rect class="b" x="1166" y="327" width="66" height="23"/><rect class="ic" x="1167.5" y="328.5" width="3" height="3"/><text class="t" x="1199" y="331.8">PersonWorkType</text><line class="dv" x1="1166" y1="333.5" x2="1232" y2="333.5"/><text class="a" x="1167.5" y="337">StartDateTime : DateTimeType [0..1]</text><text class="a" x="1167.5" y="340.5">Duration : duration [0..1]</text><text class="a" x="1167.5" y="344">DownTime : duration [0..1]</text><text class="a" x="1167.5" y="347.5">TilledArea : AreaType [0..1]</text></g>
<g id="MachineWorkType"><rect class="b" x="1458" y="327" width="67" height="23"/><rect class="ic" x="1459.5" y="328.5" width="3" height="3"/><text class="t" x="1491.5" y="331.8">MachineWorkType</text><line class="dv" x1="1458" y1="333.5" x2="1525" y2="333.5"/><text class="a" x="1459.5" y="337">StartDateTime : DateTimeType [0..1]</text><text class="a" x="1459.5" y="340.5">Duration : duration [0..1]</text><text class="a" x="1459.5" y="344">DownTime : duration [0..1]</text><text class="a" x="1459.5" y="347.5">TilledArea : AreaType [0..1]</text></g>
<g id="MachineType"><rect class="b" x="1358" y="375" width="69" height="42"/><rect class="ic" x="1359.5" y="380.5" width="3" height="3"/><text class="s" x="1392.5" y="378.8">«complexType»</text><text class="t" x="1392.5" y="383.6">MachineType</text><line class="dv" x1="1358" y1="385.5" x2="1427" y2="385.5"/><text class="a" x="1359.5" y="389">ID : IdentifierType [0..1]</text><text class="a" x="1359.5" y="392.8">ExternalID : IdentifierType [0..1]</text><text class="a" x="1359.5" y="396.6">NameOfMachine : normalizedString [0..1]</text><text class="a" x="1359.5" y="400.4">TypeOfMachine : CodeType [0..1]</text><text class="a" x="1359.5" y="404.2">ManufacturerName : TextType [0..1]</text><text class="a" x="1359.5" y="408">WorkingWidth : LengthType [0..1]</text><text class="a" x="1359.5" y="411.8">_attrGroup1 : Annotation [0..1]</text></g>
<g id="RatingSchemeType"><rect class="b" x="1157" y="386" width="71" height="19"/><rect class="ic" x="1158.5" y="387.5" width="3" height="3"/><text class="t" x="1192.5" y="390.8">RatingSchemeType</text><line class="dv" x1="1157" y1="392.5" x2="1228" y2="392.5"/><text class="a" x="1158.5" y="396">ID : IdentifierType [0..1]</text><text class="a" x="1158.5" y="399.5">ExternalID : IdentifierType [0..1]</text><text class="a" x="1158.5" y="403">RatingSchemeName : normalizedString [0..1]</text></g>
<g id="AttributeType"><rect class="b" x="1145" y="443" width="72" height="23"/><rect class="ic" x="1146.5" y="444.5" width="3" height="3"/><text class="t" x="1181" y="447.8">AttributeType</text><line class="dv" x1="1145" y1="449.5" x2="1217" y2="449.5"/><text class="a" x="1146.5" y="453">TypeOfAttribute : CodeType [0..1]</text><text class="a" x="1146.5" y="456.5">Value : normalizedString [0..1]</text><text class="a" x="1146.5" y="460">UnitOfMeasurement : normalizedString [0..1]</text><text class="a" x="1146.5" y="463.5">Tolerance : TextType [0..1]</text></g>
<g id="SeedType"><rect class="b" x="1037" y="436" width="67" height="37"/><rect class="ic" x="1038.5" y="437.5" width="3" height="3"/><text class="t" x="1070.5" y="440.8">SeedType</text><line class="dv" x1="1037" y1="442.5" x2="1104" y2="442.5"/><text class="a" x="1038.5" y="446">SeedBatch : TextType [0..1]</text><text class="a" x="1038.5" y="449.4">GerminationCapacity : PercentType [0..1]</text><text class="a" x="1038.5" y="452.8">ThousandGrainWeight : MassType [0..1]</text><text class="a" x="1038.5" y="456.2">SeedCategory : CodeType [0..1]</text><text class="a" x="1038.5" y="459.6">SeedingDensity : MeasureType [0..1]</text><text class="a" x="1038.5" y="463">Moisture : PercentType [0..1]</text><text class="a" x="1038.5" y="466.4">Origin : boolean [0..1]</text><text class="a" x="1038.5" y="469.8">Certificate : normalizedString [0..1]</text></g>
<g id="AgentType"><rect class="b" x="1062" y="498" width="28" height="12"/><rect class="ic" x="1063.5" y="499.5" width="2.5" height="2.5"/><text class="t" x="1077" y="502.8">AgentType</text><line class="dv" x1="1062" y1="504.5" x2="1090" y2="504.5"/></g>
<g id="Choice1-Agent"><rect class="b" x="1025" y="545" width="58" height="20"/><rect class="ic" x="1026.5" y="550.5" width="3" height="3"/><text class="s" x="1054" y="548.8">«group_choice»</text><text class="t" x="1054" y="553.6">_Choice1</text><line class="dv" x1="1025" y1="555.5" x2="1083" y2="555.5"/><text class="a" x="1026.5" y="559">AgentName : normalizedString [0..1]</text><text class="a" x="1026.5" y="562.5">AgentRegisteredCode : CodeType [0..1]</text></g>
<g id="PesticideType"><rect class="b" x="1089" y="534" width="72" height="43"/><rect class="ic" x="1090.5" y="535.5" width="3" height="3"/><text class="t" x="1125" y="538.8">PesticideType</text><line class="dv" x1="1089" y1="540.5" x2="1161" y2="540.5"/><text class="a" x="1090.5" y="544">EPPOCode : normalizedString [0..1]</text><text class="a" x="1090.5" y="547.6">ApprovalNumber : date [0..1]</text><text class="a" x="1090.5" y="551.2">ApprovalEnd : date [0..1]</text><text class="a" x="1090.5" y="554.8">ActiveAgent : TextType [0..1]</text><text class="a" x="1090.5" y="558.4">WaitingPeriod : duration [0..1]</text><text class="a" x="1090.5" y="562">AppliedQuantity : MeasureType [0..1]</text><text class="a" x="1090.5" y="565.6">TargetOrganism : TextType [0..1]</text><text class="a" x="1090.5" y="569.2">PesticideFormulation : CodeType [0..1]</text><text class="a" x="1090.5" y="572.8">PesticideGroupOfApplication : CodeType [0..1]</text></g>
<g id="IndicationDetailsType"><rect class="b" x="1079" y="598" width="52" height="16"/><rect class="ic" x="1080.5" y="599.5" width="3" height="3"/><text class="t" x="1105" y="602.8">IndicationDetailsType</text><line class="dv" x1="1079" y1="604.5" x2="1131" y2="604.5"/><text class="a" x="1080.5" y="608">IndicationCrop : CodeType [0..1]</text><text class="a" x="1080.5" y="611.5">Indication : TextType [0..1]</text></g>
<g id="TyreType"><rect class="b" x="1246" y="448" width="56" height="14"/><rect class="ic" x="1247.5" y="449.5" width="3" height="3"/><text class="t" x="1274" y="452.8">TyreType</text><line class="dv" x1="1246" y1="454.5" x2="1302" y2="454.5"/><text class="a" x="1247.5" y="458">LoadCarryCapacity : MassType [0..1]</text><text class="a" x="1247.5" y="461">TyreDesignation : TextType [0..1]</text></g>
<g id="TechnicalSpecificationsType"><rect class="b" x="1348" y="448" width="89" height="15"/><rect class="ic" x="1349.5" y="449.5" width="3" height="3"/><text class="t" x="1392.5" y="452.8">TechnicalSpecificationsType</text><line class="dv" x1="1348" y1="454.5" x2="1437" y2="454.5"/><text class="a" x="1349.5" y="458">TechnicalSpecification : CodeType [0..1]</text><text class="a" x="1349.5" y="461.5">TechnicalSpecificationValue : MeasuredValueType [0..1]</text></g>
<g id="DriveType"><rect class="b" x="1455" y="449" width="60" height="12"/><rect class="ic" x="1456.5" y="450.5" width="3" height="3"/><text class="t" x="1485" y="453.8">DriveType</text><line class="dv" x1="1455" y1="455.5" x2="1515" y2="455.5"/><text class="a" x="1456.5" y="459">RatedEnginePower : PowerType [0..1]</text></g>
<g id="OperatingSuppliesType"><rect class="b" x="1320" y="496" width="73" height="16"/><rect class="ic" x="1321.5" y="497.5" width="3" height="3"/><text class="t" x="1356.5" y="500.8">OperatingSuppliesType</text><line class="dv" x1="1320" y1="502.5" x2="1393" y2="502.5"/><text class="a" x="1321.5" y="506">TypeOfOperatingSupply : CodeType [0..1]</text><text class="a" x="1321.5" y="509.5">ConsumptionOfOperatingSupply : VolumeType [0..1]</text></g>
<g id="HarvestedCropType"><rect class="b" x="1817" y="328" width="57" height="22"/><rect class="ic" x="1818.5" y="329.5" width="3" height="3"/><text class="t" x="1845.5" y="332.8">HarvestedCropType</text><line class="dv" x1="1817" y1="334.5" x2="1874" y2="334.5"/><text class="a" x="1818.5" y="338">HarvestedUnit : CodeType [0..1]</text><text class="a" x="1818.5" y="341.4">HarvestedQuantity : MassType [0..1]</text><text class="a" x="1818.5" y="344.8">YieldQuantity : MeasureType [0..1]</text><text class="a" x="1818.5" y="348.2">Moisture : PercentType [0..1]</text></g>
<g id="HarvestResidueType"><rect class="b" x="1880" y="331" width="59" height="16"/><rect class="ic" x="1881.5" y="332.5" width="3" height="3"/><text class="t" x="1909.5" y="335.8">HarvestResidueType</text><line class="dv" x1="1880" y1="337.5" x2="1939" y2="337.5"/><text class="a" x="1881.5" y="341">ResidueQuantity : MassType [0..1]</text><text class="a" x="1881.5" y="344.5">ResidueUtilisation : CodeType [0..1]</text></g>
<g id="QualityAttributeType"><rect class="b" x="1580" y="377" width="74" height="39"/><rect class="ic" x="1581.5" y="378.5" width="3" height="3"/><text class="t" x="1617" y="381.8">QualityAttributeType</text><line class="dv" x1="1580" y1="383.5" x2="1654" y2="383.5"/><text class="a" x="1581.5" y="387">ProteinContent : PercentType [0..1]</text><text class="a" x="1581.5" y="390.5">ForeignMatterContent : PercentType [0..1]</text><text class="a" x="1581.5" y="394">FallingNumber : TimeType [0..1]</text><text class="a" x="1581.5" y="397.5">Moisture : PercentType [0..1]</text><text class="a" x="1581.5" y="401">GlucosinolateContent : PercentType [0..1]</text><text class="a" x="1581.5" y="404.5">Quality : boolean [0..1]</text><text class="a" x="1581.5" y="408">GerminationCapacity : PercentType [0..1]</text><text class="a" x="1581.5" y="411.5">Comment : TextType [0..1]</text></g>
<g id="GroupType"><rect class="b" x="1817" y="387" width="65" height="19"/><rect class="ic" x="1818.5" y="388.5" width="3" height="3"/><text class="t" x="1849.5" y="391.8">GroupType</text><line class="dv" x1="1817" y1="393.5" x2="1882" y2="393.5"/><text class="a" x="1818.5" y="397">GroupingBatch : date [0..1]</text><text class="a" x="1818.5" y="400.5">DeliveryDate : date [0..1]</text><text class="a" x="1818.5" y="404">TypeOfGroupProduction : CodeType [0..1]</text></g>
<g id="ContaminationType"><rect class="b" x="1582" y="447" width="71" height="16"/><rect class="ic" x="1583.5" y="448.5" width="3" height="3"/><text class="t" x="1617.5" y="451.8">ContaminationType</text><line class="dv" x1="1582" y1="453.5" x2="1653" y2="453.5"/><text class="a" x="1583.5" y="457">TypeOfContamination : TextType [0..1]</text><text class="a" x="1583.5" y="460.5">DegreeOfContamination : PercentType [0..1]</text></g>
<g id="NameAndAddressType"><rect class="b" x="1470" y="722" width="74" height="79"/><rect class="ic" x="1471.5" y="727.5" width="3" height="3"/><text class="s" x="1507" y="725.8">«complexType»</text><text class="t" x="1507" y="730.6">NameAndAddressType</text><line class="dv" x1="1470" y1="732.5" x2="1544" y2="732.5"/><text class="a" x="1471.5" y="736">Salutation : normalizedString [0..1]</text><text class="a" x="1471.5" y="740">Title : TextType [0..1]</text><text class="a" x="1471.5" y="744">Name : normalizedString [0..1]</text><text class="a" x="1471.5" y="748">FirstName : normalizedString [0..1]</text><text class="a" x="1471.5" y="752">City : normalizedString [0..1]</text><text class="a" x="1471.5" y="756">CityCode : normalizedString [0..1]</text><text class="a" x="1471.5" y="760">CountryCode : CodeType [0..1]</text><text class="a" x="1471.5" y="764">CountyCode : normalizedString [0..1]</text><text class="a" x="1471.5" y="768">CountyName : normalizedString [0..1]</text><text class="a" x="1471.5" y="772">POBoxNumber : normalizedString [0..1]</text><text class="a" x="1471.5" y="776">PostalCode : normalizedString [0..1]</text><text class="a" x="1471.5" y="780">LandLine : TextType [0..1]</text><text class="a" x="1471.5" y="784">ProvinceCode : normalizedString [0..1]</text><text class="a" x="1471.5" y="788">State : normalizedString [0..1]</text><text class="a" x="1471.5" y="792">StreetAddress : normalizedString [0..1]</text><text class="a" x="1471.5" y="796">StreetAddressType : normalizedString [0..1]</text></g>
<g id="ISO639CodeType"><rect class="b" x="1480" y="826" width="55" height="12"/><rect class="ic" x="1481.5" y="827.5" width="3" height="3"/><text class="t" x="1507.5" y="830.8">ISO639CodeType</text><line class="dv" x1="1480" y1="832.5" x2="1535" y2="832.5"/><text class="a" x="1481.5" y="836">languageISOCode : anonymous [1]</text></g>

<!-- Wetterstation -->
<g id="WeatherStationType"><rect class="b" x="1960" y="257" width="60" height="31"/><rect class="ic" x="1961.5" y="258.5" width="3" height="3"/><text class="t" x="1990" y="261.8">WeatherStationType</text><line class="dv" x1="1960" y1="263.5" x2="2020" y2="263.5"/><text class="a" x="1961.5" y="267">WeatherStationCode : CodeType</text><text class="a" x="1961.5" y="270.5">Name : normalizedString</text><text class="a" x="1961.5" y="274">Temperature : TemperatureType [0..1]</text><text class="a" x="1961.5" y="277.5">Humidity : PercentType [0..1]</text><text class="a" x="1961.5" y="281">Precipitation : LengthType [0..1]</text><text class="a" x="1961.5" y="284.5">SolarRadiation : MeasureType [0..1]</text></g>
<g id="ClimateType"><rect class="b" x="2025" y="263" width="55" height="19"/><rect class="ic" x="2026.5" y="264.5" width="3" height="3"/><text class="t" x="2052.5" y="267.8">ClimateType</text><line class="dv" x1="2025" y1="269.5" x2="2080" y2="269.5"/><text class="a" x="2026.5" y="273">Temperature : TemperatureType [0..1]</text><text class="a" x="2026.5" y="276.5">Humidity : PercentType [0..1]</text><text class="a" x="2026.5" y="280">Precipitation : LengthType [0..1]</text></g>
<g id="SpeedType"><rect class="b" x="2023" y="329" width="54" height="19"/><rect class="ic" x="2024.5" y="330.5" width="3" height="3"/><text class="t" x="2050" y="333.8">SpeedType</text><line class="dv" x1="2023" y1="335.5" x2="2077" y2="335.5"/><text class="a" x="2024.5" y="339">SpeedValue : SpeedType [0..1]</text><text class="a" x="2024.5" y="342.5">SpeedUnit : TextType [0..1]</text><text class="a" x="2024.5" y="346">Direction : AngleType [0..1]</text></g>

<!-- overlay: blue blocks -->
<g id="blue-blocks">
<rect class="blue" x="3" y="0" width="316" height="115"/>
<rect class="blue" x="3" y="925" width="316" height="131"/>
</g>

<!-- overlay: red group outlines and pointers -->
<g id="group-felder">
<polygon class="red" points="28,137 265,137 265,374 28,374"/>
<line class="redl" x1="263" y1="139" x2="321" y2="80"/>
<text class="big" x="324" y="68" font-size="48" textLength="145" lengthAdjust="spacingAndGlyphs">Felder</text>
</g>
<g id="group-anbau">
<polygon class="red" points="310,248 425,248 425,297 459,317 550,328 626,430 628,477 469,477 469,363 425,317 310,305"/>
<line class="redl" x1="402" y1="248" x2="607" y2="92"/>
<text class="big" x="618" y="77" font-size="50" textLength="149" lengthAdjust="spacingAndGlyphs">Anbau</text>
</g>
<g id="group-massnahmen">
<polygon class="red" points="457,230 987,155 1139,153 1932,230 1932,307 457,307"/>
<line class="redl" x1="1126" y1="53" x2="1060" y2="156"/>
<text class="big" x="1132" y="45" font-size="48" textLength="292" lengthAdjust="spacingAndGlyphs">Maßnahmen</text>
</g>
<g id="group-wetterstation">
<polygon class="red" points="1943,230 2082,230 2082,382 1943,382"/>
<line class="redl" x1="1923" y1="113" x2="2024" y2="228"/>
<text class="big" x="1729" y="98" font-size="48" textLength="323" lengthAdjust="spacingAndGlyphs">Wetterstation</text>
</g>
<g id="group-betrieb">
<polygon class="red" points="207,420 312,373 402,373 505,625 505,682 288,783 207,783"/>
<line class="redl" x1="452" y1="708" x2="650" y2="885"/>
<text class="big" x="664" y="930" font-size="46" textLength="169" lengthAdjust="spacingAndGlyphs">Betrieb</text>
</g>
<g id="group-geodaten">
<polygon class="red" points="42,456 118,456 157,574 193,722 193,797 233,797 233,874 118,947 42,947"/>
<line class="redl" x1="197" y1="899" x2="345" y2="998"/>
<text class="big" x="346" y="1043" font-size="46" textLength="226" lengthAdjust="spacingAndGlyphs">Geodaten</text>
</g>
</svg>
